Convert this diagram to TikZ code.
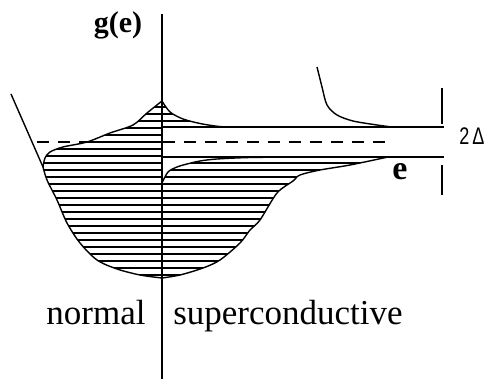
\documentclass[tikz,border=0pt]{standalone}
\usepackage{fontspec}
\setmainfont{Liberation Serif}
\newfontfamily\gapfont{Liberation Sans}
\tikzset{
  band/.style={line width=1.4pt},
  hatch/.style={line width=1.8pt},
  label/.style={inner sep=0pt,font=\fontsize{35}{35}\selectfont}
}
\begin{document}
\begin{tikzpicture}[x=1pt,y=-1pt,line width=1.5pt]
\useasboundingbox (0,0) rectangle (487,379);
\coordinate (top) at (162,14); \coordinate (bot) at (162,379);
\coordinate (peak) at (162,101); \coordinate (floor) at (162,278);
\coordinate (hi) at (444,127); \coordinate (lo) at (444,157);
% filled states, hatched
\begin{scope}[band]
\draw[clip] (peak) -- plot[smooth] coordinates {(162,101) (170,112) (183,119) (200,123.5) (215,126) (225,127)}
  -- (162,127) -- (floor)
  -- plot[smooth] coordinates {(162,278) (140,275) (117,269) (97,260) (80,243) (67,223) (57,200) (47,180) (43,167)}
  -- plot[smooth] coordinates {(43,167) (45,158) (50,152) (63,147) (87,142) (110,133) (133,125) (147,113) (162,101)} -- cycle
  (162,183) -- plot[smooth] coordinates {(162,183) (168,172) (177,167) (187,164) (200,161) (217,159) (250,157.5) (300,157)}
  -- (388,157)
  -- plot[smooth] coordinates {(388,157) (350,165) (320,170) (300,175) (293,181) (277,193) (260,220) (250,230) (240,243) (220,260) (203,268) (180,275) (162,278)} -- cycle;
\foreach \y in {100,107,...,275}
  \draw[hatch] (0,\y) -- (487,\y);
\end{scope}
\draw[band] (11,94) -- (43,167);
\draw[band] plot[smooth] coordinates {(317,67) (322,87) (327,105) (337,115) (353,121) (377,125) (392,127)};
% gap edges and Fermi level
\draw (162,127) -- (hi);
\draw (162,157) -- (lo);
\draw[dash pattern=on 12pt off 9pt] (37,142) -- (393,142);
\draw (442,88) -- (442,124);
\draw (442,165) -- (442,195);
\draw (top) -- (bot);
\node[label,font=\bfseries\fontsize{30}{30}\selectfont] (ge) at (118,25) {g(e)};
\node[label,font=\bfseries\fontsize{34}{34}\selectfont] (e) at (400,172) {e};
\node[label,anchor=base] (normal) at (96,324) {normal};
\node[label,anchor=base] (sc) at (288,324) {superconductive};
\node[inner sep=0pt] (gap) at (472,136) {\scalebox{0.75}[1]{\gapfont\fontsize{24}{24}\selectfont 2\,Δ}};
\end{tikzpicture}
\end{document}
